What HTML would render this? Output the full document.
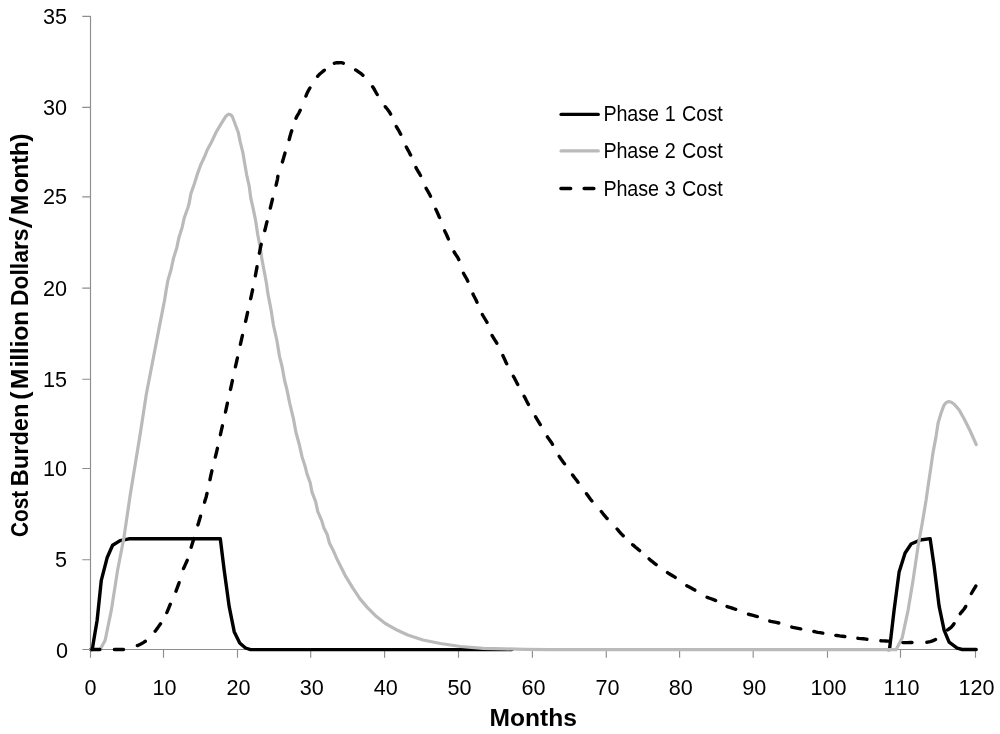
<!DOCTYPE html>
<html lang="en"><head><meta charset="utf-8"><title>Cost Burden by Phase</title>
<style>
html,body{margin:0;padding:0;background:#fff;}
body{width:1000px;height:734px;overflow:hidden;}
svg{display:block;}
text{font-family:"Liberation Sans",sans-serif;fill:#000;}
.tick{font-size:21.6px;font-kerning:none;}
.leg{font-size:21.5px;}
.ttl{font-size:24.8px;font-weight:bold;}
.ax{stroke:#8e8e8e;stroke-width:1.15;fill:none;}
.ln{fill:none;stroke-width:3.4;stroke-linejoin:round;stroke-linecap:round;}
</style></head><body>
<svg width="1000" height="734" viewBox="0 0 1000 734">
<rect width="1000" height="734" fill="#fff"/>
<path class="ax" d="M90.5 16H90.5V649.5H976M82.3 649.5H90.5M82.3 559.7H90.5M82.3 468.5H90.5M82.3 379.2H90.5M82.3 288.1H90.5M82.3 196.9H90.5M82.3 107.3H90.5M82.3 16.4H90.5M90.5 649.5V657.7M163.5 649.5V657.7M237.5 649.5V657.7M310.7 649.5V657.7M384.6 649.5V657.7M458.5 649.5V657.7M532.4 649.5V657.7M606.3 649.5V657.7M679.6 649.5V657.7M753.2 649.5V657.7M827.5 649.5V657.7M900.5 649.5V657.7M975.5 649.5V657.7"/>
<text class="tick" x="68.1" y="657.5" text-anchor="end">0</text>
<text class="tick" x="67.0" y="567.1" text-anchor="end">5</text>
<text class="tick" x="67.0" y="475.9" text-anchor="end">10</text>
<text class="tick" x="67.0" y="386.6" text-anchor="end">15</text>
<text class="tick" x="67.0" y="295.5" text-anchor="end">20</text>
<text class="tick" x="67.0" y="204.3" text-anchor="end">25</text>
<text class="tick" x="67.0" y="114.7" text-anchor="end">30</text>
<text class="tick" x="67.0" y="23.8" text-anchor="end">35</text>
<text class="tick" x="90.5" y="695.4" text-anchor="middle">0</text>
<text class="tick" x="164.6" y="695.4" text-anchor="middle">10</text>
<text class="tick" x="238.6" y="695.4" text-anchor="middle">20</text>
<text class="tick" x="311.8" y="695.4" text-anchor="middle">30</text>
<text class="tick" x="385.7" y="695.4" text-anchor="middle">40</text>
<text class="tick" x="459.6" y="695.4" text-anchor="middle">50</text>
<text class="tick" x="533.5" y="695.4" text-anchor="middle">60</text>
<text class="tick" x="607.4" y="695.4" text-anchor="middle">70</text>
<text class="tick" x="680.7" y="695.4" text-anchor="middle">80</text>
<text class="tick" x="754.3" y="695.4" text-anchor="middle">90</text>
<text class="tick" x="828.6" y="695.4" text-anchor="middle">100</text>
<text class="tick" x="901.6" y="695.4" text-anchor="middle">110</text>
<text class="tick" x="976.6" y="695.4" text-anchor="middle">120</text>
<text class="ttl" x="533.3" y="725.8" text-anchor="middle" textLength="87.4" lengthAdjust="spacingAndGlyphs">Months</text>
<text class="ttl" transform="translate(28.2 536.9) rotate(-90)" textLength="46.2" lengthAdjust="spacingAndGlyphs">Cost</text>
<text class="ttl" transform="translate(28.2 486.2) rotate(-90)" textLength="82.5" lengthAdjust="spacingAndGlyphs">Burden</text>
<text class="ttl" transform="translate(28.2 399.7) rotate(-90)" x="0 10.45 32.15 38.85 45.55 52.25 58.95 73.69">(Million</text>
<text class="ttl" transform="translate(28.2 306.1) rotate(-90)" textLength="77.7" lengthAdjust="spacingAndGlyphs">Dollars</text>
<text class="ttl" style="font-size:31px;font-weight:normal" transform="translate(31.6 228.3) rotate(-90)" textLength="11.6" lengthAdjust="spacingAndGlyphs">/</text>
<text class="ttl" transform="translate(28.2 215.3) rotate(-90)" x="0 22.1 36.65 51.2 59.13 73.68">Month)</text>
<polyline class="ln" stroke="#000" points="90.5,649.5 92.3,649.5 93.8,640.0 97.1,620.5 101.3,580.3 107.1,557.8 112.6,545.2 120.1,540.6 128.9,538.8 220.3,538.8 224.2,570.3 229.2,606.7 234.2,631.7 239.7,643.0 245.5,648.0 250.5,649.6 512.0,649.6"/>
<polyline class="ln" stroke="#000" points="888.0,649.6 889.5,649.5 894.1,610.1 899.1,572.1 905.1,553.0 911.1,544.0 920.1,540.0 930.1,538.6 934.1,566.1 939.1,606.1 944.1,630.1 949.1,642.1 957.2,648.1 962.2,649.5 976.2,649.5"/>
<polyline class="ln" style="stroke-width:3.2" stroke="#bababa" points="90.4,649.5 100.1,649.5 105.1,640.5 111.3,610.4 117.6,570.3 123.9,537.7 130.2,495.1 134.3,470.0 140.2,433.9 146.4,393.8 152.7,361.2 159.0,328.6 164.5,300.5 166.2,289.9 167.9,280.4 171.1,269.5 173.4,258.6 176.8,247.7 178.8,238.1 182.2,227.2 184.3,217.7 187.7,208.2 189.2,203.0 190.9,193.6 194.3,184.0 197.7,173.1 200.7,164.9 204.5,156.8 207.2,150.0 211.3,142.5 216.1,132.2 220.9,124.1 225.6,116.6 227.4,114.9 228.8,114.2 230.6,114.8 232.2,116.2 234.1,121.3 238.2,132.2 240.2,141.8 242.9,152.7 244.7,163.6 246.6,174.5 249.3,186.7 250.7,197.6 252.9,207.3 255.7,220.9 257.7,234.5 260.1,246.8 262.1,260.4 264.5,272.7 266.4,283.0 267.9,293.6 271.1,310.0 273.4,325.0 276.8,340.0 279.5,356.3 282.2,367.2 284.5,380.0 287.0,390.0 289.8,403.6 293.4,418.6 295.9,432.2 299.3,444.5 302.0,456.7 305.1,466.3 306.8,473.2 310.2,482.7 312.0,492.2 315.7,501.8 317.7,511.3 321.8,520.9 323.8,527.7 327.2,534.5 329.3,542.7 333.4,550.8 337.6,560.3 345.1,575.3 352.7,587.9 360.2,599.1 367.7,607.9 375.2,615.4 385.3,623.5 395.3,629.2 407.8,635.0 422.9,640.0 440.4,643.5 460.5,646.5 483.1,648.3 505.0,648.9 525.0,649.4 550.0,649.7 896.1,649.7 902.1,638.1 908.1,610.1 913.1,580.1 918.1,546.0 922.1,524.0 926.1,500.1 928.1,486.1 931.1,466.1 933.1,452.1 936.1,436.1 938.1,423.0 941.1,413.0 943.8,405.6 946.2,402.6 948.6,401.5 951.4,402.3 954.2,404.2 959.2,410.0 964.2,419.0 970.2,431.0 976.2,444.5"/>
<path class="ln" stroke="#000" d="M91.7 649.5L99.9 649.5M114.4 649.5L123.5 649.5M137.4 645.6L138.3 645.2L140.9 644.0L143.3 642.6L145.3 641.3M155.2 631.1L155.7 630.5L157.3 628.4L158.7 626.4L160.2 624.2L160.5 623.8M166.8 612.6L167.2 611.7L168.2 609.3L169.2 606.8L170.3 604.2L170.3 604.2M176.0 591.2L176.4 590.1L177.5 587.2L178.5 584.4L179.1 582.7M183.5 568.6L184.0 567.5L185.3 564.6L186.6 561.8L187.2 560.3M191.2 547.2L192.1 544.2L193.4 540.0L193.9 538.5M197.9 524.9L198.2 524.1L199.1 521.0L200.3 517.0L200.5 516.2M204.6 502.2L204.9 500.9L205.6 498.8L206.3 496.4L207.0 493.4M210.0 479.7L210.8 475.7L211.9 470.8M215.3 457.1L215.5 456.3L216.7 451.5L217.4 448.3M220.4 434.7L220.4 434.6L221.7 428.9L222.4 425.8M225.5 412.0L226.7 406.4L227.4 403.1M230.5 389.4L231.7 383.8L232.4 380.6M235.4 366.8L235.4 366.8L236.7 361.2L237.4 358.0M240.4 344.3L240.4 344.3L241.7 338.7L242.4 335.5M245.6 321.3L246.8 316.1L247.6 312.4M250.7 298.7L251.8 293.5L252.6 289.8M255.4 275.8L255.5 275.0L256.7 268.6L257.0 266.8M259.4 253.2L260.5 247.4L261.2 244.3M264.8 230.5L265.6 227.4L266.9 221.9L267.0 221.7M270.3 208.1L271.1 204.8L272.5 199.2M276.1 185.2L276.8 182.2L277.4 179.5L277.6 178.2L277.7 177.2L277.9 176.3M282.4 161.9L282.9 160.4L283.6 157.9L284.3 155.5L285.0 153.1M289.2 139.5L289.6 138.0L290.1 136.0L290.7 134.0L291.4 131.6L291.7 130.8M296.0 118.3L296.7 116.7L297.9 114.7L299.0 112.7L300.2 110.3L300.2 110.3M305.9 96.1L306.1 95.6L306.9 93.7L307.7 91.9L308.9 89.7L309.9 88.0M317.6 76.3L318.2 75.6L319.8 74.0L321.6 72.5L323.5 70.9L324.3 70.2M334.4 63.2L334.5 63.1L336.1 62.8L337.6 62.7L339.0 62.7L340.2 62.6L341.3 62.6L342.4 62.8L343.3 63.2M355.6 69.9L356.4 70.3L358.5 71.8L360.7 73.3L362.8 75.2L362.9 75.3M372.6 86.7L373.1 87.3L374.2 89.2L375.3 91.2L376.6 93.5L377.2 94.5M385.3 106.7L385.8 107.4L387.2 109.0L388.5 110.7L389.9 112.8L390.6 114.1M396.3 126.4L396.6 127.0L397.7 128.8L398.8 130.7L400.0 132.9L400.7 134.3M406.3 147.0L406.8 147.9L408.0 150.2L409.3 152.4L410.5 154.9L410.6 155.0M416.0 167.6L416.8 169.1L418.0 171.2L419.3 173.2L420.5 175.5M426.1 188.2L426.4 188.9L427.9 191.4L429.3 193.8L430.5 196.2M435.8 209.3L436.2 210.1L437.3 212.4L438.3 214.7L439.4 217.2L439.6 217.6M444.6 230.7L444.9 231.4L446.0 233.6L447.0 235.8L448.1 238.3L448.4 238.9M454.1 251.9L454.6 252.8L456.1 255.1L457.6 257.3L458.8 259.6M463.5 273.2L463.9 274.0L465.2 276.3L466.5 278.5L467.7 280.9L467.8 281.2M473.0 294.0L473.4 295.0L474.7 297.5L476.0 300.0L477.0 302.2M482.4 314.6L482.9 315.5L484.4 318.0L485.9 320.5L487.0 322.4M492.1 335.4L492.6 336.4L494.1 338.8L495.7 341.3L496.8 343.2M502.9 355.5L503.3 356.5L504.6 359.2L505.8 362.0L506.7 363.8M513.4 376.3L514.0 377.3L515.4 380.0L516.7 382.6L517.7 384.4M524.2 396.3L524.8 397.3L526.1 400.0L527.5 402.7L528.4 404.4M535.6 416.8L536.2 417.8L537.7 420.3L539.2 422.8L540.3 424.6M547.4 436.8L548.0 437.7L549.6 439.9L551.2 442.2L552.5 444.3M559.2 456.4L559.8 457.3L561.4 459.6L563.1 461.9L564.5 463.8M572.6 475.0L573.2 475.9L575.0 478.2L576.8 480.6L578.0 482.3M586.5 493.7L587.1 494.6L588.7 496.8L590.3 499.0L591.9 501.0M601.3 511.5L601.7 512.0L603.1 513.8L604.6 515.6L606.3 517.6L607.1 518.5M617.1 529.0L617.7 529.7L619.3 531.6L620.8 533.3L622.6 535.2L623.2 535.8M632.7 544.7L633.5 545.4L635.6 547.2L637.7 548.9L639.6 550.6M649.1 558.9L649.8 559.6L652.0 561.3L654.2 563.1L656.2 564.6M667.5 572.6L668.4 573.2L670.9 574.7L673.4 576.2L675.2 577.4M686.8 585.7L687.8 586.3L690.3 587.6L692.8 589.0L694.8 590.1M707.1 597.3L707.9 597.7L710.4 598.5L712.9 599.4L715.4 600.4L715.6 600.5M727.1 606.5L728.0 606.9L730.6 607.7L733.3 608.5L735.7 609.3M748.5 614.2L749.5 614.5L752.2 615.2L754.8 615.9L757.3 616.6M769.8 621.1L770.8 621.4L773.4 621.9L776.1 622.4L778.8 623.0M791.8 627.1L792.8 627.4L795.4 627.9L798.0 628.4L800.7 628.9L800.8 628.9M813.8 631.5L814.1 631.5L815.8 631.9L817.7 632.3L820.0 632.7L822.8 633.2M835.8 635.4L837.0 635.5L839.7 635.9L842.3 636.2L844.8 636.5M857.9 638.3L858.6 638.4L861.0 638.6L863.4 638.8L866.1 639.1L866.9 639.2M880.9 640.8L881.5 640.9L883.6 640.9L885.7 641.0L888.1 641.1L890.0 641.3M902.9 642.6L904.2 642.6L907.2 642.6L910.1 642.5L912.0 642.5M926.9 642.2L927.7 642.1L930.2 641.6L932.6 640.9L935.1 639.7L935.5 639.5M947.5 630.0L948.0 629.6L949.6 628.5L951.1 627.3L952.6 625.7L954.0 623.7M960.3 613.7L960.8 612.9L962.5 611.0L964.1 609.0L965.6 606.7L965.7 606.4M971.4 593.5L972.0 592.5L973.5 589.9L974.9 587.7L975.8 586.1"/>
<path class="ln" stroke="#000" d="M561.1 114.4H598.2"/>
<path class="ln" stroke="#bababa" d="M561.1 150.9H598.2"/>
<path class="ln" stroke="#000" d="M560.9 188.5h9.8M584.1 188.5h9.8"/>
<text class="leg" transform="translate(603.5 120.8) scale(0.92 1)" x="0.00 14.14 25.92 37.71 48.30 60.09 66.63 78.80 85.33 100.93 112.96 123.76">Phase 1 Cost</text>
<text class="leg" transform="translate(603.5 158.2) scale(0.92 1)" x="0.00 14.14 25.92 37.71 48.30 60.09 66.63 78.80 85.33 100.93 112.96 123.76">Phase 2 Cost</text>
<text class="leg" transform="translate(603.5 195.7) scale(0.92 1)" x="0.00 14.14 25.92 37.71 48.30 60.09 66.63 78.80 85.33 100.93 112.96 123.76">Phase 3 Cost</text>
</svg>
</body></html>
